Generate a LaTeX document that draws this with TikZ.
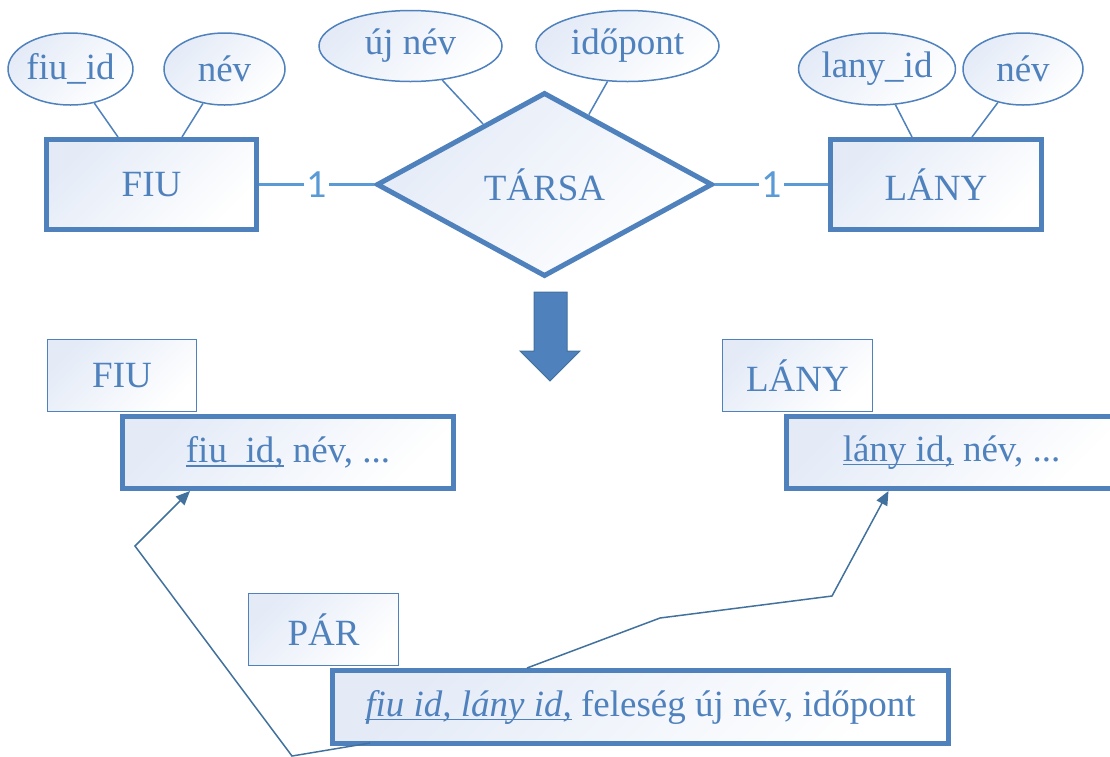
\documentclass[tikz,border=0pt]{standalone}
\usepackage{fontspec}
\setmainfont{Liberation Serif}
\newfontfamily\numfont{Carlito}
\usetikzlibrary{shapes.geometric,arrows.meta,calc}

\definecolor{erblue}{RGB}{79,129,189}
\definecolor{linkblue}{RGB}{91,155,213}
\definecolor{darkblue}{RGB}{65,113,156}
\definecolor{paleblue}{RGB}{228,235,247}

% underline that sits just below the baseline
\newcommand{\ulx}[1]{\setbox0\hbox{#1}\rlap{\rule[-4pt]{\wd0}{1.3pt}}\box0{}}

\tikzset{
  erbase/.style={text=erblue, font=\fontsize{37}{42}\selectfont,
    top color=paleblue, bottom color=white, shading angle=45,
    draw=erblue, inner sep=0pt},
  attr/.style={erbase, ellipse, line width=1.5pt, minimum height=72pt},
  entity/.style={erbase, rectangle, line width=5pt, minimum width=210pt, minimum height=90pt},
  rel/.style={erbase, diamond, line width=5pt, minimum width=336pt, minimum height=184pt},
  tag/.style={erbase, rectangle, line width=1.5pt, minimum width=149pt, minimum height=72pt},
  relbox/.style={erbase, rectangle, line width=5pt, minimum height=72pt},
  link/.style={linkblue, line width=2.5pt},
  stem/.style={erblue, line width=1.5pt},
  card/.style={fill=white, text=linkblue, font=\numfont\fontsize{40}{42}\selectfont, inner sep=2pt},
  ref/.style={darkblue, line width=1.5pt, line join=miter, -{Triangle[length=14pt,width=12pt]}}
}

\begin{document}
\begin{tikzpicture}[x=1pt, y=-1pt]
\useasboundingbox (0,0) rectangle (1110,756);

% ---------- ER diagram ----------
\node[attr, minimum width=121pt] (a_fiuid) at (70.5,69) {fiu\_id};
\node[attr, minimum width=121pt] (a_fnev)  at (224.5,69) {név};
\node[attr, minimum width=183pt, minimum height=71pt] (a_ujnev) at (410.5,46) {új név};
\node[attr, minimum width=183pt, minimum height=71pt] (a_ido)   at (627.5,46) {időpont};
\node[attr, minimum width=148pt] (a_lanyid) at (877,69) {lany\_id};
\node[attr, minimum width=120pt] (a_lnev)   at (1023,69) {név};

\node[entity] (fiu) at (151.5,184.5) {FIU};
\node[entity, minimum width=211pt] (lany) at (936,184.5) {LÁNY};
\node[rel] (tarsa) at (544.5,184.5) {TÁRSA};

% attribute stems
\draw[stem] (a_fiuid) -- ([xshift=74pt]fiu.north west);
\draw[stem] (a_fnev) -- ([xshift=138pt]fiu.north west);
\draw[stem] (a_lanyid) -- ([xshift=84pt]lany.north west);
\draw[stem] (a_lnev) -- ([xshift=144pt]lany.north west);
\coordinate (t1) at ($(tarsa.west)!0.64!(tarsa.north)$);
\coordinate (t2) at ($(tarsa.north)!0.26!(tarsa.east)$);
\draw[stem] (a_ujnev) -- (t1);
\draw[stem] (a_ido) -- (t2);

% relationship links with cardinalities
\draw[link] (fiu.east) -- node[card] (c1) {1} (tarsa.west);
\draw[link] (tarsa.east) -- node[card] (c2) {1} (lany.west);

% ---------- transformation arrow ----------
\fill[erblue, draw=darkblue, line width=1pt]
  (534,292) -- (567,292) -- (567,351) -- (580,351) -- (550,381)
  -- (520,351) -- (534,351) -- cycle;

% ---------- relational schema ----------
\node[tag] (fiutag) at (122,375.5) {FIU};
\node[tag, minimum width=150pt] (lanytag) at (797.5,375.5) {LÁNY};
\node[tag, minimum width=150pt] (partag) at (323.5,629.5) {PÁR};

\node[relbox, minimum width=331pt] (fiutab) at (288,452.5) {\ulx{fiu\_id,} név, ...};
\node[relbox, minimum width=331pt] (lanytab) at (951.5,452.5) {\ulx{lány id,} név, ...};
\node[relbox, minimum width=616pt, minimum height=73pt] (partab) at (640.5,707)
  {{\itshape\ulx{fiu id, lány id,}} feleség új név, időpont};

% foreign key references
\coordinate (k1) at (292,756);
\coordinate (k2) at (135,546);
\coordinate (k3) at (660,618);
\coordinate (k4) at (832,596);
\draw[ref] ([xshift=40pt,yshift=3pt]partab.south west) -- (k1) -- (k2)
  -- ([xshift=70pt]fiutab.south west);
\draw[ref] ([xshift=197pt]partab.north west) -- (k3) -- (k4)
  -- ([xshift=105pt]lanytab.south west);

\end{tikzpicture}
\end{document}
